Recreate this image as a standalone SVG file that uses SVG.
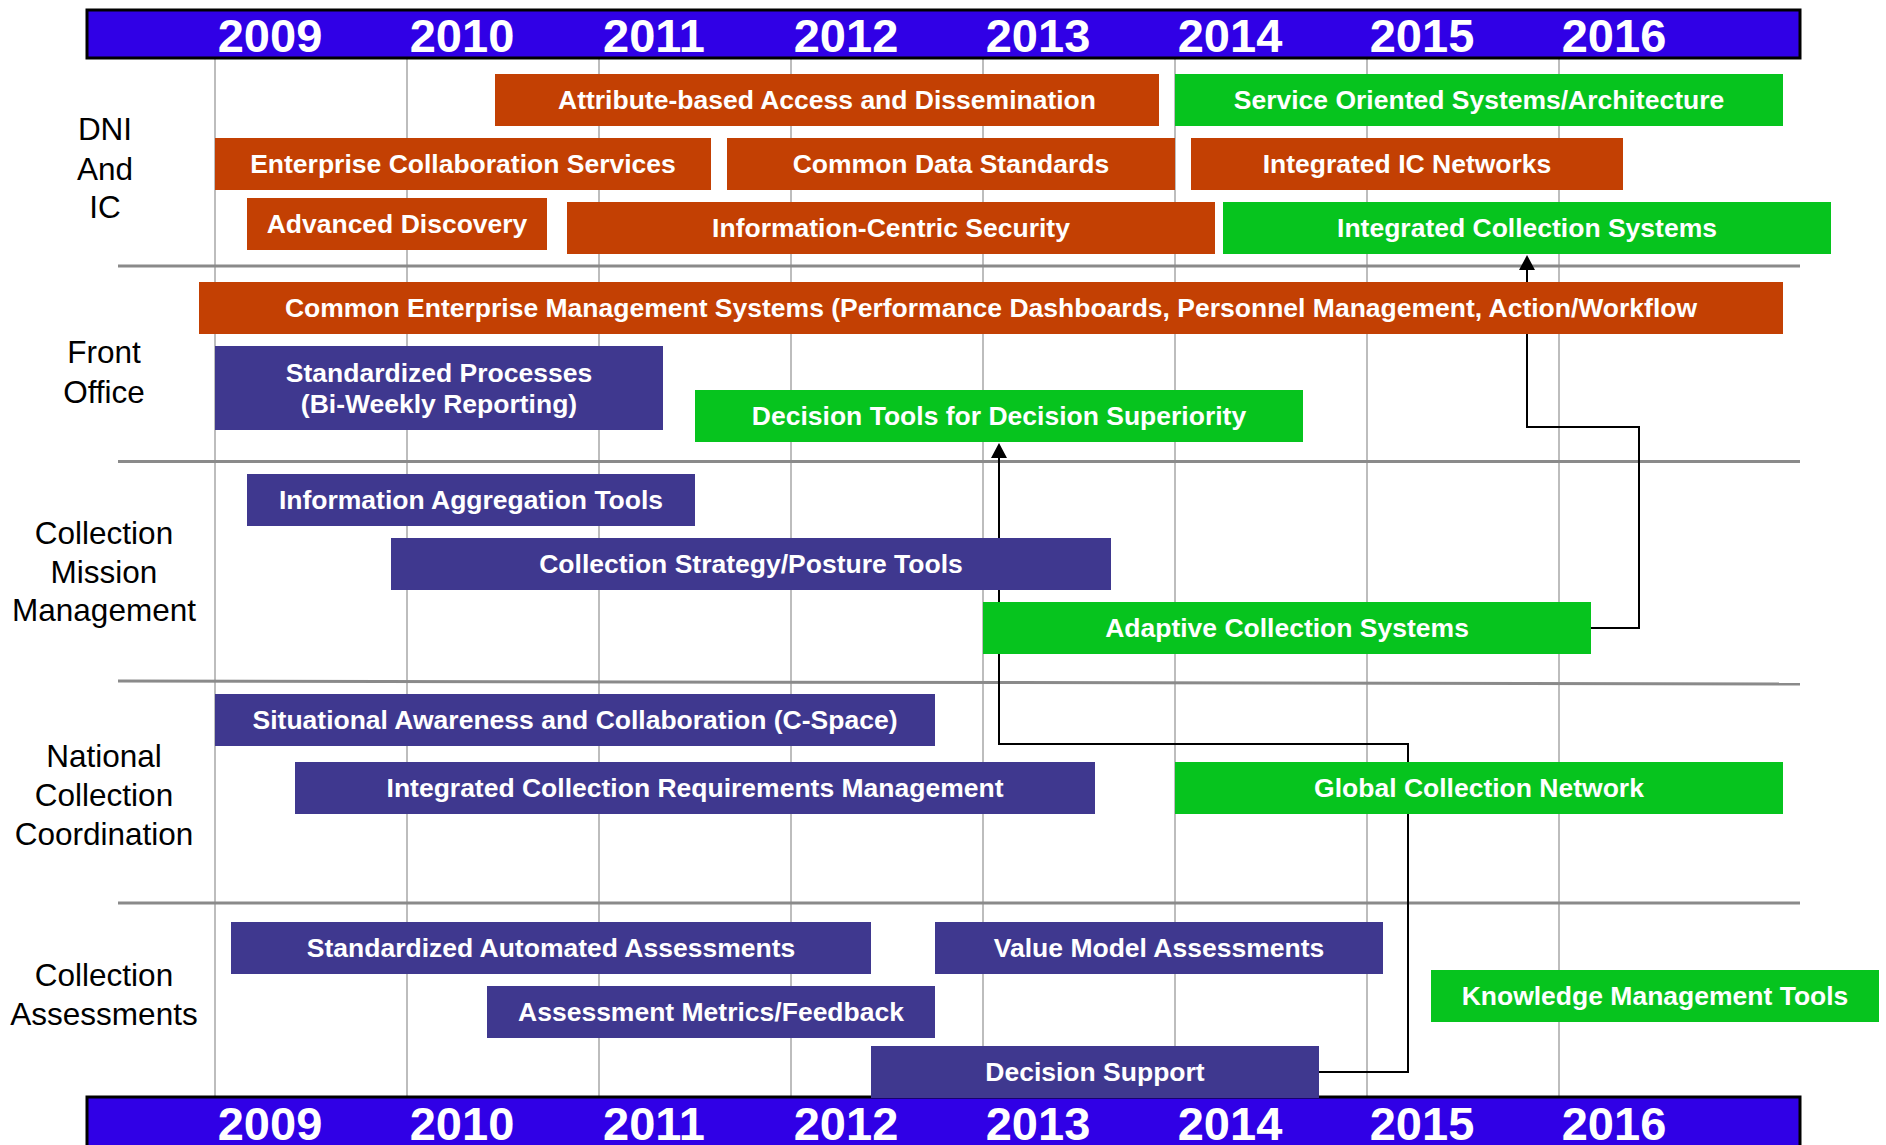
<svg xmlns="http://www.w3.org/2000/svg" width="1886" height="1145" viewBox="0 0 1886 1145">
<style>
.hdr{fill:#3000E6;stroke:#000;stroke-width:3}
.yr{font-family:"Liberation Sans",Arial,sans-serif;font-weight:bold;font-size:47px;fill:#fff;text-anchor:middle}
.grid{stroke:#BDBDBD;stroke-width:2}
.sep{stroke:#8A8A8A;stroke-width:3}
.lbl{font-family:"Liberation Sans",Arial,sans-serif;font-size:31.5px;fill:#000;text-anchor:middle}
.bt{font-family:"Liberation Sans",Arial,sans-serif;font-weight:bold;font-size:26.5px;fill:#fff;text-anchor:middle}
.o{fill:#C34003}
.g{fill:#06C41E}
.p{fill:#3F388F}
.conn{fill:none;stroke:#000;stroke-width:2}
</style>
<defs>
<marker id="arr" markerUnits="userSpaceOnUse" viewBox="0 0 15 16" refX="0" refY="8" markerWidth="15" markerHeight="16" orient="auto">
<path d="M0,0 L15,8 L0,16 z" fill="#000"/>
</marker>
</defs>
<rect width="1886" height="1145" fill="#fff"/>
<g id="grid">
<line class="grid" x1="215" y1="58" x2="215" y2="1097"/>
<line class="grid" x1="407" y1="58" x2="407" y2="1097"/>
<line class="grid" x1="599" y1="58" x2="599" y2="1097"/>
<line class="grid" x1="791" y1="58" x2="791" y2="1097"/>
<line class="grid" x1="983" y1="58" x2="983" y2="1097"/>
<line class="grid" x1="1175" y1="58" x2="1175" y2="1097"/>
<line class="grid" x1="1367" y1="58" x2="1367" y2="1097"/>
<line class="grid" x1="1559" y1="58" x2="1559" y2="1097"/>
<line class="sep" x1="118" y1="266" x2="1800" y2="266"/>
<line class="sep" x1="118" y1="461.5" x2="1800" y2="461.5"/>
<line class="sep" x1="118" y1="681" x2="1800" y2="684"/>
<line class="sep" x1="118" y1="903" x2="1800" y2="903"/>
</g>
<g id="header-top">
<rect class="hdr" x="87" y="10" width="1713" height="48"/>
<text class="yr" x="270" y="52">2009</text>
<text class="yr" x="462" y="52">2010</text>
<text class="yr" x="654" y="52">2011</text>
<text class="yr" x="846" y="52">2012</text>
<text class="yr" x="1038" y="52">2013</text>
<text class="yr" x="1230" y="52">2014</text>
<text class="yr" x="1422" y="52">2015</text>
<text class="yr" x="1614" y="52">2016</text>
</g>
<g id="header-bottom">
<rect class="hdr" x="87" y="1097" width="1713" height="60"/>
<text class="yr" x="270" y="1140">2009</text>
<text class="yr" x="462" y="1140">2010</text>
<text class="yr" x="654" y="1140">2011</text>
<text class="yr" x="846" y="1140">2012</text>
<text class="yr" x="1038" y="1140">2013</text>
<text class="yr" x="1230" y="1140">2014</text>
<text class="yr" x="1422" y="1140">2015</text>
<text class="yr" x="1614" y="1140">2016</text>
</g>
<g id="lane-labels">
<text class="lbl" x="105" y="140">DNI</text>
<text class="lbl" x="105" y="179.5">And</text>
<text class="lbl" x="105" y="218">IC</text>
<text class="lbl" x="104" y="363">Front</text>
<text class="lbl" x="104" y="402.5">Office</text>
<text class="lbl" x="104" y="544">Collection</text>
<text class="lbl" x="104" y="582.5">Mission</text>
<text class="lbl" x="104" y="621">Management</text>
<text class="lbl" x="104" y="767">National</text>
<text class="lbl" x="104" y="806">Collection</text>
<text class="lbl" x="104" y="844.5">Coordination</text>
<text class="lbl" x="104" y="986">Collection</text>
<text class="lbl" x="104" y="1025">Assessments</text>
</g>
<g id="connectors">
<path class="conn" d="M1319,1072 H1408 V744 H999 V458" marker-end="url(#arr)"/>
<path class="conn" d="M1591,628 H1639 V427 H1527 V270" marker-end="url(#arr)"/>
</g>
<g id="n-attribute"><rect class="o" x="495" y="74" width="664" height="52"/><text class="bt" x="827" y="109">Attribute-based Access and Dissemination</text></g>
<g id="n-soa"><rect class="g" x="1175" y="74" width="608" height="52"/><text class="bt" x="1479" y="109">Service Oriented Systems/Architecture</text></g>
<g id="n-ecs"><rect class="o" x="215" y="138" width="496" height="52"/><text class="bt" x="463" y="173">Enterprise Collaboration Services</text></g>
<g id="n-cds"><rect class="o" x="727" y="138" width="448" height="52"/><text class="bt" x="951" y="173">Common Data Standards</text></g>
<g id="n-icn"><rect class="o" x="1191" y="138" width="432" height="52"/><text class="bt" x="1407" y="173">Integrated IC Networks</text></g>
<g id="n-ad"><rect class="o" x="247" y="198" width="300" height="52"/><text class="bt" x="397" y="233">Advanced Discovery</text></g>
<g id="n-ics"><rect class="o" x="567" y="202" width="648" height="52"/><text class="bt" x="891" y="237">Information-Centric Security</text></g>
<g id="n-icsys"><rect class="g" x="1223" y="202" width="608" height="52"/><text class="bt" x="1527" y="237">Integrated Collection Systems</text></g>
<g id="n-cems"><rect class="o" x="199" y="282" width="1584" height="52"/><text class="bt" x="991" y="317">Common Enterprise Management Systems (Performance Dashboards, Personnel Management, Action/Workflow</text></g>
<g id="n-sp"><rect class="p" x="215" y="346" width="448" height="84"/><text class="bt" x="439" y="381.5">Standardized Processes</text><text class="bt" x="439" y="412.5">(Bi-Weekly Reporting)</text></g>
<g id="n-dt"><rect class="g" x="695" y="390" width="608" height="52"/><text class="bt" x="999" y="425">Decision Tools for Decision Superiority</text></g>
<g id="n-iat"><rect class="p" x="247" y="474" width="448" height="52"/><text class="bt" x="471" y="509">Information Aggregation Tools</text></g>
<g id="n-csp"><rect class="p" x="391" y="538" width="720" height="52"/><text class="bt" x="751" y="573">Collection Strategy/Posture Tools</text></g>
<g id="n-acs"><rect class="g" x="983" y="602" width="608" height="52"/><text class="bt" x="1287" y="637">Adaptive Collection Systems</text></g>
<g id="n-sa"><rect class="p" x="215" y="694" width="720" height="52"/><text class="bt" x="575" y="729">Situational Awareness and Collaboration (C-Space)</text></g>
<g id="n-icrm"><rect class="p" x="295" y="762" width="800" height="52"/><text class="bt" x="695" y="797">Integrated Collection Requirements Management</text></g>
<g id="n-gcn"><rect class="g" x="1175" y="762" width="608" height="52"/><text class="bt" x="1479" y="797">Global Collection Network</text></g>
<g id="n-saa"><rect class="p" x="231" y="922" width="640" height="52"/><text class="bt" x="551" y="957">Standardized Automated Assessments</text></g>
<g id="n-vma"><rect class="p" x="935" y="922" width="448" height="52"/><text class="bt" x="1159" y="957">Value Model Assessments</text></g>
<g id="n-amf"><rect class="p" x="487" y="986" width="448" height="52"/><text class="bt" x="711" y="1021">Assessment Metrics/Feedback</text></g>
<g id="n-kmt"><rect class="g" x="1431" y="970" width="448" height="52"/><text class="bt" x="1655" y="1005">Knowledge Management Tools</text></g>
<g id="n-ds"><rect class="p" x="871" y="1046" width="448" height="52"/><text class="bt" x="1095" y="1081">Decision Support</text></g>
</svg>
